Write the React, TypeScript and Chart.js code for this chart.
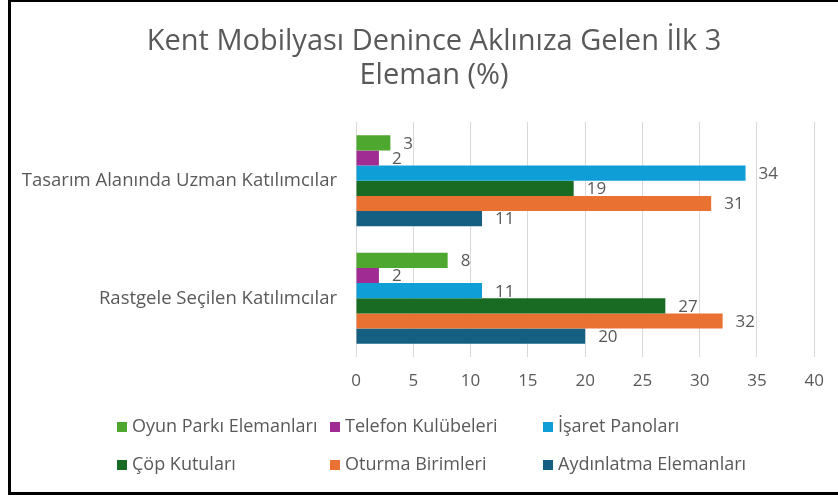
import React, { useEffect, useRef } from "react";
import { Chart, registerables } from "chart.js";

Chart.register(...registerables);

const titleLines = ["Kent Mobilyası Denince Aklınıza Gelen İlk 3", "Eleman (%)"];
const categories = ["Tasarım Alanında Uzman Katılımcılar", "Rastgele Seçilen Katılımcılar"];
const seriesNames = [
  "Oyun Parkı Elemanları",
  "Telefon Kulübeleri",
  "İşaret Panoları",
  "Çöp Kutuları",
  "Oturma Birimleri",
  "Aydınlatma Elemanları",
];
const seriesColors = ["#4EA72E", "#A02B93", "#0F9ED5", "#196B24", "#E97132", "#156082"];
const oyunParki = [3, 8];
const telefon = [2, 2];
const isaret = [34, 11];
const cop = [19, 27];
const oturma = [31, 32];
const aydinlatma = [11, 20];
const seriesValues = [oyunParki, telefon, isaret, cop, oturma, aydinlatma];
const xMin = 0;
const xMax = 40;
const xStep = 5;

const FONT = "'Open Sans', sans-serif";
const GRAY = "#595959";

const valueLabels = {
  id: "valueLabels",
  afterDatasetsDraw(chart: any) {
    const ctx = chart.ctx;
    ctx.save();
    ctx.font = `17px ${FONT}`;
    ctx.fillStyle = GRAY;
    ctx.textAlign = "left";
    ctx.textBaseline = "middle";
    chart.data.datasets.forEach((ds: any, i: number) => {
      const meta = chart.getDatasetMeta(i);
      meta.data.forEach((el: any, j: number) => {
        ctx.fillText(String(ds.data[j]), el.x + 13, el.y + 1);
      });
    });
    ctx.restore();
  },
};

const unclipY = {
  id: "unclipY",
  afterLayout(chart: any) {
    chart.scales.y.left = 12;
  },
};

const gridLegend = {
  id: "gridLegend",
  afterDraw(chart: any) {
    const ctx = chart.ctx;
    const cols = [117, 330, 543];
    const rows = [427, 465];
    ctx.save();
    ctx.font = `18px ${FONT}`;
    ctx.textBaseline = "middle";
    ctx.textAlign = "left";
    chart.data.datasets.forEach((ds: any, i: number) => {
      const x = cols[i % 3];
      const y = rows[Math.floor(i / 3)];
      ctx.fillStyle = ds.backgroundColor;
      ctx.fillRect(x, y - 5, 10, 10);
      ctx.fillStyle = GRAY;
      ctx.fillText(ds.label, x + 15, y);
    });
    ctx.restore();
  },
};

export default function App() {
  const ref = useRef<HTMLCanvasElement>(null);
  useEffect(() => {
    if (!ref.current) return;
    const chart = new Chart(ref.current, {
      type: "bar",
      data: {
        labels: categories,
        datasets: seriesNames.map((name, i) => ({
          label: name,
          data: seriesValues[i],
          backgroundColor: seriesColors[i],
          borderWidth: 0,
          barPercentage: 1,
          categoryPercentage: 0.774,
        })),
      },
      options: {
        indexAxis: "y",
        animation: false,
        responsive: false,
        layout: { padding: { left: 53, right: 23, top: 0, bottom: 100 } },
        plugins: {
          legend: { display: false },
          tooltip: { enabled: false },
          title: {
            display: true,
            text: titleLines,
            color: GRAY,
            font: { family: FONT, size: 29, weight: "normal", lineHeight: 34 / 29 },
            padding: { top: 25, bottom: 29 },
          },
        },
        scales: {
          x: {
            min: xMin,
            max: xMax,
            ticks: {
              stepSize: xStep,
              color: GRAY,
              font: { family: FONT, size: 17 },
              padding: 14,
            },
            grid: { color: "#d9d9d9", drawTicks: false, lineWidth: 1 },
            border: { display: false },
            afterFit: (s: any) => {
              s.height = 40;
            },
          },
          y: {
            ticks: { color: GRAY, font: { family: FONT, size: 18.5 }, padding: 19 },
            grid: { display: false, drawTicks: false },
            border: { display: false },
            afterFit: (s: any) => {
              s.width = 303;
            },
          },
        },
      },
      plugins: [valueLabels, gridLegend, unclipY],
    });
    return () => chart.destroy();
  }, []);
  return (
    <div style={{ position: "fixed", left: 0, top: 0, width: 838, height: 497, background: "#fff" }}>
      <canvas ref={ref} width={838} height={497} style={{ position: "absolute", left: 0, top: 0 }} />
      <div
        style={{
          position: "absolute",
          left: 8,
          top: 0,
          width: 830,
          height: 495,
          boxSizing: "border-box",
          borderTop: "2px solid #000",
          borderLeft: "3px solid #000",
          borderBottom: "3px solid #000",
          pointerEvents: "none",
        }}
      />
    </div>
  );
}
